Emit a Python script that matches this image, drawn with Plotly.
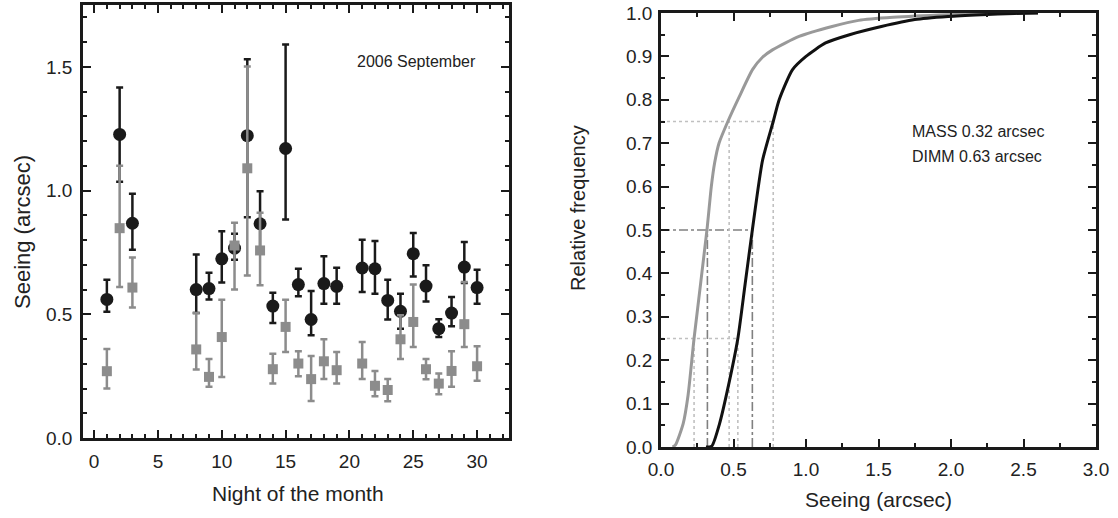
import plotly.graph_objects as go

# ---------------- Left panel data (2006 September) ----------------
nights = [1, 2, 3, 8, 9, 10, 11, 12, 13, 14, 15, 16, 17, 18, 19, 21, 22, 23, 24, 25, 26, 27, 28, 29, 30]
dimm = [0.56, 1.227, 0.868, 0.60, 0.604, 0.724, 0.767, 1.222, 0.866, 0.533, 1.17, 0.62, 0.479, 0.624, 0.613,
        0.687, 0.684, 0.556, 0.512, 0.745, 0.614, 0.442, 0.505, 0.691, 0.608]
dimm_hi = [0.64, 1.417, 0.987, 0.742, 0.668, 0.836, 0.825, 1.531, 0.997, 0.587, 1.59, 0.684, 0.594, 0.735, 0.688,
           0.801, 0.796, 0.64, 0.583, 0.829, 0.698, 0.48, 0.57, 0.792, 0.68]
dimm_lo = [0.51, 1.036, 0.761, 0.505, 0.56, 0.628, 0.72, 0.892, 0.765, 0.465, 0.883, 0.573, 0.415, 0.543, 0.543,
           0.59, 0.583, 0.479, 0.442, 0.653, 0.552, 0.408, 0.452, 0.626, 0.543]
mass = [0.27, 0.848, 0.608, 0.358, 0.247, 0.408, 0.778, 1.09, 0.758, 0.278, 0.449, 0.301, 0.238, 0.31, 0.274,
        0.301, 0.211, 0.194, 0.399, 0.469, 0.278, 0.22, 0.271, 0.46, 0.29]
mass_hi = [0.36, 1.10, 0.729, 0.505, 0.319, 0.559, 0.870, 1.501, 0.91, 0.341, 0.559, 0.351, 0.331, 0.399, 0.348,
           0.388, 0.271, 0.238, 0.496, 0.62, 0.319, 0.261, 0.351, 0.63, 0.371]
mass_lo = [0.20, 0.61, 0.527, 0.277, 0.207, 0.247, 0.60, 0.657, 0.617, 0.22, 0.348, 0.25, 0.15, 0.238, 0.22,
           0.238, 0.169, 0.149, 0.319, 0.368, 0.237, 0.177, 0.207, 0.368, 0.231]

# ---------------- Right panel data (cumulative distributions) ----------------
mass_cdf_x = [0.08, 0.10, 0.153, 0.187, 0.228, 0.317, 0.347, 0.37, 0.40, 0.461, 0.541, 0.632, 0.70,
              0.769, 0.952, 1.18, 1.363, 1.6, 1.98, 2.3, 2.6]
mass_cdf_y = [0.0, 0.005, 0.054, 0.12, 0.25, 0.5, 0.6, 0.655, 0.70, 0.75, 0.808, 0.87, 0.898,
              0.915, 0.946, 0.969, 0.983, 0.99, 0.996, 0.999, 1.0]
dimm_cdf_x = [0.31, 0.35, 0.404, 0.461, 0.53, 0.58, 0.63, 0.70, 0.774, 0.815, 0.906, 1.0, 1.135, 1.3,
              1.52, 1.75, 1.98, 2.21, 2.44, 2.6]
dimm_cdf_y = [0.0, 0.002, 0.054, 0.135, 0.25, 0.375, 0.5, 0.66, 0.75, 0.8, 0.869, 0.9, 0.931, 0.95,
              0.969, 0.985, 0.992, 0.996, 0.999, 1.0]

quart_levels = [0.25, 0.5, 0.75]
mass_quart = [0.228, 0.32, 0.47]
dimm_quart = [0.53, 0.63, 0.774]

FONT = "Liberation Sans, Arial, sans-serif"
BLACK = "#1a1a1a"
GREY = "#8c8c8c"
TXT = "#222222"

fig = go.Figure()

# Left panel: DIMM (black circles) then MASS (grey squares on top)
fig.add_trace(go.Scatter(
    x=nights, y=dimm, mode="markers", name="DIMM",
    marker=dict(symbol="circle", size=13, color=BLACK),
    error_y=dict(type="data", symmetric=False,
                 array=[h - v for h, v in zip(dimm_hi, dimm)],
                 arrayminus=[v - l for v, l in zip(dimm, dimm_lo)],
                 color=BLACK, thickness=2.5, width=3.5),
    xaxis="x", yaxis="y", showlegend=False))
fig.add_trace(go.Scatter(
    x=nights, y=mass, mode="markers", name="MASS",
    marker=dict(symbol="square", size=10, color=GREY),
    error_y=dict(type="data", symmetric=False,
                 array=[h - v for h, v in zip(mass_hi, mass)],
                 arrayminus=[v - l for v, l in zip(mass, mass_lo)],
                 color=GREY, thickness=2.5, width=3.5),
    xaxis="x", yaxis="y", showlegend=False))

# Right panel: quartile reference lines
for lvl, mq, dq in zip(quart_levels, mass_quart, dimm_quart):
    if lvl == 0.5:
        style = dict(color="#808080", width=1.6, dash="dashdot")
    else:
        style = dict(color="#c0c0c0", width=1.6, dash="dot")
    fig.add_trace(go.Scatter(x=[0, dq], y=[lvl, lvl], mode="lines", line=style,
                             xaxis="x2", yaxis="y2", showlegend=False, hoverinfo="skip"))
    for q in (mq, dq):
        fig.add_trace(go.Scatter(x=[q, q], y=[0, lvl], mode="lines", line=style,
                                 xaxis="x2", yaxis="y2", showlegend=False, hoverinfo="skip"))

fig.add_trace(go.Scatter(x=mass_cdf_x, y=mass_cdf_y, mode="lines", name="MASS",
                         line=dict(color="#999999", width=3, shape="spline", smoothing=0.6),
                         xaxis="x2", yaxis="y2", showlegend=False))
fig.add_trace(go.Scatter(x=dimm_cdf_x, y=dimm_cdf_y, mode="lines", name="DIMM",
                         line=dict(color="#111111", width=3, shape="spline", smoothing=0.6),
                         xaxis="x2", yaxis="y2", showlegend=False))

W, H = 1118, 518


def px(x):
    return x / W


def py(y):
    return 1 - y / H


axis_common = dict(showline=True, linecolor=BLACK, linewidth=2.5, mirror="ticks",
                   ticks="inside", tickwidth=2, ticklen=8, tickcolor=BLACK,
                   showgrid=False, zeroline=False, automargin=False,
                   tickfont=dict(family=FONT, size=19, color=TXT))

fig.update_layout(
    width=W, height=H, margin=dict(l=0, r=0, t=0, b=0, pad=0),
    paper_bgcolor="white", plot_bgcolor="white",
    xaxis=dict(domain=[px(83), px(509)], range=[-0.87, 32.5], dtick=5, tick0=0,
               minor=dict(dtick=1, ticks="inside", ticklen=4, tickwidth=2, tickcolor=BLACK),
               anchor="y", ticklabelstandoff=4, **axis_common),
    yaxis=dict(domain=[py(438), py(5)], range=[0, 1.75], dtick=0.5, tick0=0, tickformat=".1f",
               minor=dict(dtick=0.1, ticks="inside", ticklen=4, tickwidth=2, tickcolor=BLACK),
               anchor="x", ticklabelstandoff=4, **axis_common),
    xaxis2=dict(domain=[px(661), px(1096)], range=[0, 3], dtick=0.5, tick0=0, tickformat=".1f",
                minor=dict(dtick=0.25, ticks="inside", ticklen=4, tickwidth=2, tickcolor=BLACK),
                anchor="y2", ticklabelstandoff=3, **axis_common),
    yaxis2=dict(domain=[py(447), py(13)], range=[0, 1], dtick=0.1, tick0=0, tickformat=".1f",
                minor=dict(dtick=0.05, ticks="inside", ticklen=4, tickwidth=2, tickcolor=BLACK),
                anchor="x2", ticklabelstandoff=2, **axis_common),
)

ann = [
    dict(text="2006 September", x=px(416), y=py(62), size=16),
    dict(text="MASS 0.32 arcsec", x=px(910), y=py(131), size=16, xanchor="left"),
    dict(text="DIMM 0.63 arcsec", x=px(910), y=py(156), size=16, xanchor="left"),
    dict(text="Night of the month", x=px(298), y=py(493), size=21),
    dict(text="Seeing (arcsec)", x=px(22), y=py(232), size=22, textangle=-90),
    dict(text="Relative frequency", x=px(578), y=py(208), size=20, textangle=-90),
    dict(text="Seeing (arcsec)", x=px(878), y=py(499), size=21),
]
for a in ann:
    fig.add_annotation(text=a["text"], xref="paper", yref="paper", x=a["x"], y=a["y"],
                       xanchor=a.get("xanchor", "center"), yanchor="middle",
                       textangle=a.get("textangle", 0), showarrow=False,
                       font=dict(family=FONT, size=a["size"], color=TXT))

fig.write_html("out.html")
